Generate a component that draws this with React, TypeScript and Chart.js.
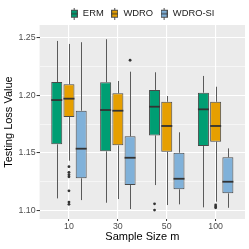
import React, { useEffect, useRef } from 'react';
import { Chart, registerables } from 'chart.js';

Chart.register(...registerables);

// ---- data ----
const sampleSizes = ['10', '30', '50', '100'];
const seriesNames = ['ERM', 'WDRO', 'WDRO-SI'];
const seriesColors = ['#009E73', '#E69F00', '#80B1D9'];

const ermLow = [1.1102, 1.1064, 1.1218, 1.1024];
const ermQ1 = [1.1573, 1.1512, 1.1651, 1.1558];
const ermMedian = [1.1959, 1.1872, 1.1901, 1.1878];
const ermQ3 = [1.2116, 1.2114, 1.2047, 1.2023];
const ermHigh = [1.2474, 1.2489, 1.2201, 1.2169];
const ermOutliers = [[], [], [1.1055, 1.1], []];

const wdroLow = [1.143, 1.1096, 1.1044, 1.1073];
const wdroQ1 = [1.1811, 1.1564, 1.1508, 1.1596];
const wdroMedian = [1.1971, 1.1866, 1.1733, 1.1733];
const wdroQ3 = [1.2096, 1.2018, 1.1944, 1.1944];
const wdroHigh = [1.2448, 1.2125, 1.1994, 1.2075];
const wdroOutliers = [[1.1378, 1.1329, 1.1308, 1.129, 1.1168, 1.107, 1.105], [], [], [1.1045, 1.103, 1.102]];

const siLow = [1.1087, 1.1009, 1.105, 1.102];
const siQ1 = [1.1277, 1.1218, 1.1181, 1.1146];
const siMedian = [1.1535, 1.1456, 1.1273, 1.1247];
const siQ3 = [1.1866, 1.1643, 1.15, 1.146];
const siHigh = [1.2463, 1.2206, 1.1678, 1.1538];
const siOutliers = [[], [1.2306], [], []];

const yTicks = [1.1, 1.125, 1.15, 1.175, 1.2, 1.225, 1.25];
const yMajorTicks = [1.1, 1.15, 1.2, 1.25];

const lows = [ermLow, wdroLow, siLow];
const q1s = [ermQ1, wdroQ1, siQ1];
const medians = [ermMedian, wdroMedian, siMedian];
const q3s = [ermQ3, wdroQ3, siQ3];
const highs = [ermHigh, wdroHigh, siHigh];
const outliers = [ermOutliers, wdroOutliers, siOutliers];

const FONT = '"Liberation Sans", Arial, Helvetica, sans-serif';
const isMajor = (v: number) => yMajorTicks.some((m) => Math.abs(m - v) < 1e-6);

const boxPlugin = {
  id: 'boxExtras',
  afterLayout(chart: any) {
    const lg = chart.legend;
    if (lg) {
      lg.left = chart.chartArea.left;
      lg.right = chart.chartArea.right;
      lg.width = lg.right - lg.left;
    }
  },
  beforeDraw(chart: any) {
    const { ctx, chartArea: a } = chart;
    ctx.save();
    ctx.fillStyle = '#EBEBEB';
    ctx.fillRect(a.left, a.top, a.right - a.left, a.bottom - a.top);
    ctx.restore();
  },
  beforeDatasetsDraw(chart: any) {
    const { ctx } = chart;
    const ys = chart.scales.y;
    ctx.save();
    ctx.strokeStyle = '#5A5A5A';
    ctx.lineWidth = 1;
    for (let d = 0; d < 3; d++) {
      const meta = chart.getDatasetMeta(d);
      meta.data.forEach((el: any, i: number) => {
        const x = Math.round(el.x) + 0.5;
        ctx.beginPath();
        ctx.moveTo(x, ys.getPixelForValue(highs[d][i]));
        ctx.lineTo(x, ys.getPixelForValue(q3s[d][i]));
        ctx.moveTo(x, ys.getPixelForValue(q1s[d][i]));
        ctx.lineTo(x, ys.getPixelForValue(lows[d][i]));
        ctx.stroke();
      });
    }
    ctx.restore();
  },
  afterDatasetsDraw(chart: any) {
    const { ctx } = chart;
    const ys = chart.scales.y;
    ctx.save();
    ctx.strokeStyle = '#333333';
    ctx.lineWidth = 1.8;
    for (let d = 0; d < 3; d++) {
      const meta = chart.getDatasetMeta(d);
      meta.data.forEach((el: any, i: number) => {
        const y = ys.getPixelForValue(medians[d][i]);
        ctx.beginPath();
        ctx.moveTo(el.x - el.width / 2, y);
        ctx.lineTo(el.x + el.width / 2, y);
        ctx.stroke();
      });
    }
    ctx.restore();
  },
};

function makeIcon(color: string) {
  const c = document.createElement('canvas');
  c.width = 7;
  c.height = 12;
  const g = c.getContext('2d')!;
  g.strokeStyle = '#4D4D4D';
  g.lineWidth = 1;
  g.beginPath();
  g.moveTo(3.5, 0);
  g.lineTo(3.5, 12);
  g.stroke();
  g.fillStyle = color;
  g.fillRect(0.5, 2.5, 6, 7);
  g.strokeRect(0.5, 2.5, 6, 7);
  g.beginPath();
  g.moveTo(0.5, 6);
  g.lineTo(6.5, 6);
  g.strokeStyle = '#333333';
  g.stroke();
  return c;
}

export default function App() {
  const ref = useRef<HTMLCanvasElement | null>(null);

  useEffect(() => {
    if (!ref.current) return;
    const icons = seriesColors.map(makeIcon);

    const boxSets = seriesNames.map((name, d) => ({
      type: 'bar' as const,
      label: name,
      data: sampleSizes.map((_, i) => ({ x: i + 1, y: [q1s[d][i], q3s[d][i]] })),
      backgroundColor: seriesColors[d],
      borderColor: '#4A4A4A',
      borderWidth: 1,
      borderSkipped: false,
      categoryPercentage: 0.75,
      barPercentage: 0.9,
    }));

    const outlierSets = seriesNames.map((name, d) => ({
      type: 'scatter' as const,
      label: name + ' outliers',
      data: sampleSizes.flatMap((_, i) =>
        outliers[d][i].map((v) => ({ x: i + 1 + (d - 1) * 0.25, y: v }))
      ),
      pointRadius: 1.4,
      pointBackgroundColor: '#333333',
      pointBorderWidth: 0,
      showLine: false,
    }));

    const chart = new Chart(ref.current, {
      type: 'bar',
      data: { datasets: [...boxSets, ...outlierSets] as any },
      options: {
        responsive: false,
        animation: false,
        layout: { padding: { top: 2, left: 3, right: 3, bottom: 6.4 } },
        plugins: {
          tooltip: { enabled: false },
          legend: {
            display: true,
            position: 'top',
            maxHeight: 23,
            labels: {
              usePointStyle: true,
              boxWidth: 8,
              padding: 7,
              color: '#1A1A1A',
              font: { size: 9.4, family: FONT },
              generateLabels: () =>
                seriesNames.map((n, i) => ({
                  text: n,
                  pointStyle: icons[i],
                  fillStyle: seriesColors[i],
                  strokeStyle: '#333333',
                  lineWidth: 0,
                  hidden: false,
                  datasetIndex: i,
                  fontColor: '#1A1A1A',
                })),
            },
          },
        },
        scales: {
          x: {
            type: 'linear',
            min: 0.4,
            max: 4.6,
            offset: false,
            afterBuildTicks: (s: any) => {
              s.ticks = sampleSizes.map((_, i) => ({ value: i + 1 }));
            },
            ticks: {
              autoSkip: false,
              maxRotation: 0,
              padding: 0,
              color: '#4D4D4D',
              font: { size: 8.8, family: FONT },
              callback: (v: any) => sampleSizes[Math.round(Number(v)) - 1] ?? '',
            },
            grid: {
              offset: false,
              color: '#FFFFFF',
              lineWidth: 1.1,
              tickLength: 2,
              tickColor: '#333333',
              tickWidth: 1,
            },
            border: { display: false },
            title: {
              display: true,
              text: 'Sample Size m',
              color: '#000000',
              font: { size: 11, family: FONT, lineHeight: 1 },
              padding: { top: 0, bottom: 0 },
            },
          },
          y: {
            type: 'linear',
            min: 1.0922,
            max: 1.2613,
            stacked: false,
            afterBuildTicks: (s: any) => {
              s.ticks = yTicks.map((v) => ({ value: v }));
            },
            ticks: {
              autoSkip: false,
              padding: 1,
              color: '#4D4D4D',
              font: { size: 8.8, family: FONT },
              callback: (v: any) => (isMajor(Number(v)) ? Number(v).toFixed(2) : ''),
            },
            grid: {
              color: '#FFFFFF',
              lineWidth: (c: any) => (c.tick && isMajor(c.tick.value) ? 1.1 : 0.55),
              tickLength: 3,
              tickColor: (c: any) => (c.tick && isMajor(c.tick.value) ? '#333333' : 'rgba(0,0,0,0)'),
              tickWidth: 1,
            },
            border: { display: false },
            title: {
              display: true,
              text: 'Testing Loss Value',
              color: '#000000',
              font: { size: 11, family: FONT, lineHeight: 1 },
              padding: { top: 0.5, bottom: 3 },
            },
          },
        },
      },
      plugins: [boxPlugin],
    });

    return () => chart.destroy();
  }, []);

  return (
    <div style={{ position: 'absolute', left: 0, top: 0, width: 249, height: 249 }}>
      <canvas ref={ref} width={249} height={249} />
    </div>
  );
}
